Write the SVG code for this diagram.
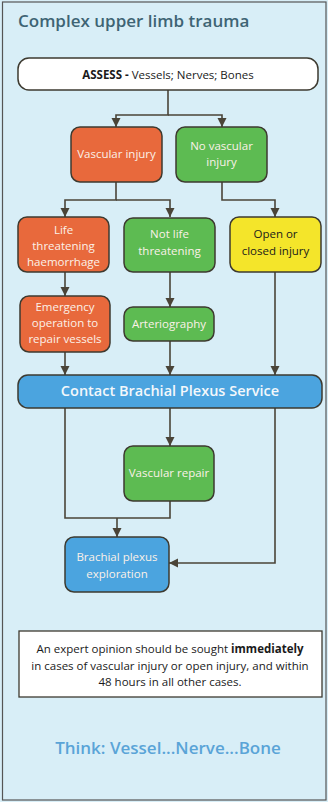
<svg xmlns="http://www.w3.org/2000/svg" width="328" height="802" viewBox="0 0 328 802">
<defs>
<style>
.t{font-family:"Open Sans","Noto Sans","DejaVu Sans",sans-serif;}
.box{stroke:#3d3a30;stroke-width:1.5;}
.or{fill:#e8693c;}
.gr{fill:#5dbb52;}
.ye{fill:#f4e52a;}
.bl{fill:#4ba4df;}
.lt{fill:#fbf1e8;font-size:11.5px;text-anchor:middle;}
.dk{fill:#1a1a1a;font-size:11.5px;text-anchor:middle;}
.con path{fill:none;stroke:#4a4438;stroke-width:1.6;}
</style>
<marker id="ah" markerUnits="userSpaceOnUse" markerWidth="10" markerHeight="10" refX="9" refY="4.5" orient="auto">
<path d="M0,0 L9,4.5 L0,9 z" fill="#4a4438"/>
</marker>
</defs>
<rect x="0" y="0" width="328" height="802" fill="#d8eef7"/>
<rect x="2.5" y="2" width="323.5" height="798" fill="none" stroke="#555" stroke-width="1.2"/>
<text class="t" x="18" y="27" font-size="17" font-weight="600" fill="#3e6474">Complex upper limb trauma</text>

<g class="con">
<path d="M168,90 V115 H116 V127" marker-end="url(#ah)"/>
<path d="M168,115 H222 V127" marker-end="url(#ah)"/>
<path d="M116,182 V200 H65 V217" marker-end="url(#ah)"/>
<path d="M116,200 H170 V217" marker-end="url(#ah)"/>
<path d="M222,182 V200 H275 V217" marker-end="url(#ah)"/>
<path d="M65,272 V296" marker-end="url(#ah)"/>
<path d="M170,272 V307" marker-end="url(#ah)"/>
<path d="M275,272 V375" marker-end="url(#ah)"/>
<path d="M65,352 V375" marker-end="url(#ah)"/>
<path d="M170,341 V375" marker-end="url(#ah)"/>
<path d="M170,408 V446" marker-end="url(#ah)"/>
<path d="M65,408 V518 H170 V501"/>
<path d="M117,518 V537" marker-end="url(#ah)"/>
<path d="M275,408 V563 H169" marker-end="url(#ah)"/>
</g>

<g id="assess">
<rect class="box" x="18" y="58" width="300" height="32" rx="11" fill="#fff"/>
<text class="t" x="168" y="78.5" font-size="11.5" text-anchor="middle" fill="#1a1a1a"><tspan font-weight="700">ASSESS - </tspan>Vessels; Nerves; Bones</text>
</g>
<g id="vascular">
<rect class="box or" x="71" y="127" width="91" height="55" rx="9"/>
<text class="t lt" x="116.5" y="158">Vascular injury</text>
</g>
<g id="novascular">
<rect class="box gr" x="176" y="127" width="91" height="55" rx="9"/>
<text class="t lt" x="221.5" y="150">No vascular</text>
<text class="t lt" x="221.5" y="166">injury</text>
</g>
<g id="lifethreat">
<rect class="box or" x="18" y="217" width="91" height="55" rx="9"/>
<text class="t lt" x="63.5" y="234">Life</text>
<text class="t lt" x="63.5" y="250">threatening</text>
<text class="t lt" x="63.5" y="266">haemorrhage</text>
</g>
<g id="notlife">
<rect class="box gr" x="124" y="218" width="91" height="54" rx="9"/>
<text class="t lt" x="169.5" y="238">Not life</text>
<text class="t lt" x="169.5" y="255">threatening</text>
</g>
<g id="openclosed">
<rect class="box ye" x="230" y="217" width="91" height="55" rx="9"/>
<text class="t dk" x="275.5" y="238">Open or</text>
<text class="t dk" x="275.5" y="255">closed injury</text>
</g>
<g id="emergency">
<rect class="box or" x="20" y="296" width="90" height="56" rx="9"/>
<text class="t lt" x="65" y="311">Emergency</text>
<text class="t lt" x="65" y="327">operation to</text>
<text class="t lt" x="65" y="343">repair vessels</text>
</g>
<g id="arteriography">
<rect class="box gr" x="124" y="307" width="90" height="34" rx="9"/>
<text class="t lt" x="169" y="328">Arteriography</text>
</g>
<g id="contact">
<rect class="box bl" x="18" y="375" width="304" height="33" rx="10"/>
<text class="t" x="170" y="396" font-size="14.5" font-weight="600" text-anchor="middle" fill="#f4f8fb">Contact Brachial Plexus Service</text>
</g>
<g id="vascrepair">
<rect class="box gr" x="124" y="446" width="90" height="55" rx="9"/>
<text class="t lt" x="169" y="477">Vascular repair</text>
</g>
<g id="exploration">
<rect class="box bl" x="65" y="537" width="104" height="55" rx="9"/>
<text class="t lt" x="117" y="561">Brachial plexus</text>
<text class="t lt" x="117" y="578">exploration</text>
</g>
<g id="note">
<rect x="19" y="631" width="303" height="66" fill="#fff" stroke="#3d3a30" stroke-width="1.3"/>
<text class="t dk" x="170" y="653" font-size="11.8">An expert opinion should be sought  <tspan font-weight="700">immediately</tspan></text>
<text class="t dk" x="170" y="670" font-size="11.8">in cases of vascular injury or open injury, and within</text>
<text class="t dk" x="170" y="686" font-size="11.8">48 hours in all other cases.</text>
</g>
<text class="t" x="168" y="754" font-size="17" font-weight="600" text-anchor="middle" fill="#5aa4d7">Think: Vessel...Nerve...Bone</text>
</svg>
